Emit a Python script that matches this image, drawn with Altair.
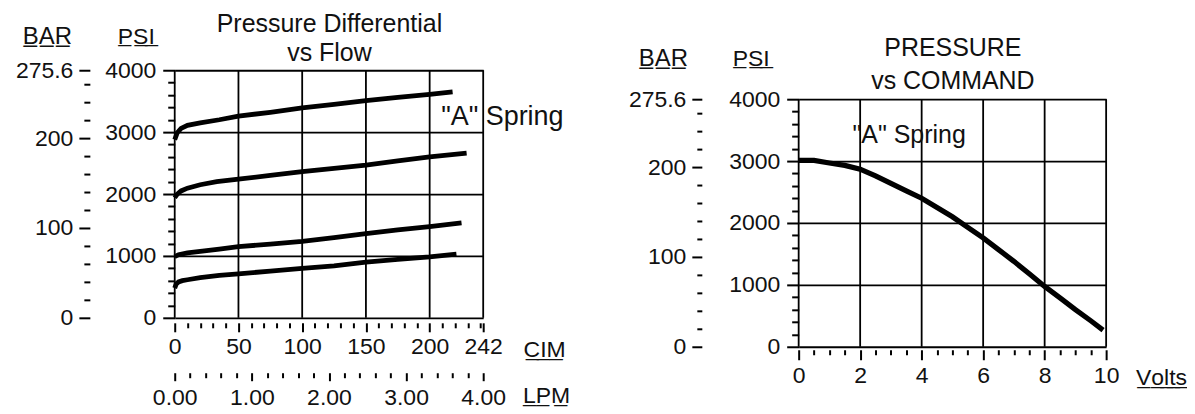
import altair as alt
import pandas as pd

FONT = "Liberation Sans"
INK = "#111111"

# ---------------- Left panel: Pressure Differential vs Flow ----------------
cim_a = [0, 2, 5, 10, 20, 35, 50, 75, 100, 125, 150, 175, 200, 218]
psi_a = [2880, 2990, 3060, 3110, 3150, 3200, 3260, 3320, 3390, 3450, 3510, 3560, 3610, 3650]
cim_b = [0, 2, 5, 10, 20, 33, 50, 75, 100, 125, 150, 175, 200, 229]
psi_b = [1940, 2000, 2050, 2095, 2150, 2200, 2240, 2300, 2360, 2415, 2468, 2535, 2600, 2660]
cim_c = [0, 3, 10, 20, 35, 50, 75, 100, 125, 150, 175, 200, 225]
psi_c = [990, 1020, 1050, 1075, 1110, 1150, 1190, 1235, 1295, 1360, 1420, 1475, 1535]
cim_d = [0, 1, 3, 6, 10, 20, 35, 50, 75, 100, 125, 150, 175, 200, 221]
psi_d = [480, 540, 580, 600, 615, 650, 685, 710, 755, 800, 840, 900, 945, 985, 1030]

# ---------------- Right panel: PRESSURE vs COMMAND ----------------
volts = [0, 0.5, 1, 1.5, 2, 2.5, 3, 3.5, 4, 4.5, 5, 5.5, 6, 6.5, 7, 7.5, 8, 8.5, 9, 9.5, 9.9]
psi_cmd = [3010, 3010, 2970, 2930, 2870, 2760, 2640, 2520, 2400, 2250, 2100, 1930, 1760,
           1570, 1380, 1180, 975, 790, 600, 420, 270]

# ---------------- tick values / labels ----------------
cim_major = [0, 50, 100, 150, 200, 242]
cim_minor = [10, 20, 30, 40, 60, 70, 80, 90, 110, 120, 130, 140, 160, 170, 180, 190,
             210, 220, 230, 240]
lpm_major = [0, 1, 2, 3, 4]
lpm_minor = [0.2, 0.4, 0.6, 0.8, 1.2, 1.4, 1.6, 1.8, 2.2, 2.4, 2.6, 2.8, 3.2, 3.4, 3.6, 3.8]
psi_major = [0, 1000, 2000, 3000, 4000]
psi_minor = [200, 400, 600, 800, 1200, 1400, 1600, 1800, 2200, 2400, 2600, 2800,
             3200, 3400, 3600, 3800]
bar_major = [0, 100, 200, 275.6]
bar_minor = [20, 40, 60, 80, 120, 140, 160, 180, 220, 240, 260]
volt_major = [0, 2, 4, 6, 8, 10]
volt_minor = [0.5, 1, 1.5, 2.5, 3, 3.5, 4.5, 5, 5.5, 6.5, 7, 7.5, 8.5, 9, 9.5]

cim_domain = [0, 242]
lpm_domain = [0, 4]
psi_domain = [0, 4000]
bar_domain = [0, 275.6]
volt_domain = [0, 10]

left_title = ["Pressure Differential", "vs Flow"]
right_title = ["PRESSURE", "vs COMMAND"]
spring_label = ['"A" Spring']

# ---------------- layout (pixels inside the drawing area) ----------------
W, H = 933, 277
LX = [0, 309]          # left panel x range
LY = [248, 0]          # left panel y range
RX = [625, 933]        # right panel x range
RY = [277, 29]         # right panel y range
GRID_W = 1.8
LABEL_SIZE = 23

U = "\u0332"


def underline(s):
    return "".join(ch + U for ch in s)


def axis(values, orient, tick, labels=True, grid=False, offset=0, pad=6, fmt=None,
         title=None, tx=0, ty=0, label_expr=None, tsize=23):
    d = dict(values=values, orient=orient, tickSize=tick, tickColor="black", tickWidth=2,
             domain=False, grid=grid, labels=labels, offset=offset, labelPadding=pad,
             labelFont=FONT, labelFontSize=LABEL_SIZE, labelColor=INK, labelFlush=False,
             labelOverlap=False)
    if grid:
        d.update(gridColor="black", gridWidth=GRID_W, gridOpacity=1)
    if fmt:
        d["format"] = fmt
    if label_expr:
        d["labelExpr"] = label_expr
    if title:
        d.update(title=underline(title), titleFont=FONT, titleFontSize=tsize,
                 titleFontWeight="normal", titleColor=INK, titleAngle=0, titleX=tx,
                 titleY=ty, titleAlign="center", titleBaseline="alphabetic")
    else:
        d["title"] = ""
    return alt.Axis(**d)


def title_axis(lines, tx, ty, lh):
    return alt.Axis(orient="top", ticks=False, labels=False, domain=False, grid=False,
                    title=lines, titleFont=FONT, titleFontSize=25, titleFontWeight="normal",
                    titleColor=INK, titleAngle=0, titleX=tx, titleY=ty,
                    titleAlign="center", titleBaseline="alphabetic", titleLineHeight=lh)


def sc(domain, rng):
    return alt.Scale(domain=domain, range=rng, nice=False, zero=False)


# ---------------- left panel ----------------
rows = []
for name, xs, ys in [("a", cim_a, psi_a), ("b", cim_b, psi_b), ("c", cim_c, psi_c),
                     ("d", cim_d, psi_d)]:
    for x, y in zip(xs, ys):
        rows.append({"curve": name, "cim": x, "psi": y})
left_df = pd.DataFrame(rows)
left_ref = pd.DataFrame({"cim": cim_domain, "psi": psi_domain, "lpm": lpm_domain,
                         "bar": bar_domain})
left_vgrid = pd.DataFrame({"cim": cim_major, "lo": psi_domain[0], "hi": psi_domain[1]})

L_vgrid = alt.Chart(left_vgrid).mark_rule(color="black", strokeWidth=GRID_W).encode(
    x=alt.X("cim:Q", scale=sc(cim_domain, LX), axis=None),
    y=alt.Y("lo:Q", scale=sc(psi_domain, LY), axis=None),
    y2="hi:Q",
)
L_lines = alt.Chart(left_df).mark_line(color="black", strokeWidth=4.8).encode(
    x=alt.X("cim:Q", scale=sc(cim_domain, LX),
            axis=axis(cim_major, "bottom", 9, offset=-24, pad=4, title="CIM",
                      tx=370, ty=34)),
    y=alt.Y("psi:Q", scale=sc(psi_domain, LY),
            axis=axis(psi_major, "left", 12, grid=True, pad=7, fmt="d", title="PSI",
                      tx=-39, ty=-27)),
    detail="curve:N",
)
L_minor = alt.Chart(left_ref).mark_point(opacity=0).encode(
    x=alt.X("cim:Q", scale=sc(cim_domain, LX),
            axis=axis(cim_minor, "bottom", 5, labels=False, offset=-24)),
    y=alt.Y("psi:Q", scale=sc(psi_domain, LY), axis=axis(psi_minor, "left", 7, labels=False)),
)
L_alt_major = alt.Chart(left_ref).mark_point(opacity=0).encode(
    x=alt.X("lpm:Q", scale=sc(lpm_domain, LX),
            axis=axis(lpm_major, "bottom", 8, offset=26, pad=6, fmt=".2f", title="LPM",
                      tx=372, ty=30)),
    y=alt.Y("bar:Q", scale=sc(bar_domain, LY),
            axis=axis(bar_major, "left", 11, offset=85, pad=6, title="BAR", tx=-43, ty=-27,
                      tsize=24,
                      label_expr="datum.value == 275.6 ? '275.6' : datum.label")),
)
L_alt_minor = alt.Chart(left_ref).mark_point(opacity=0).encode(
    x=alt.X("lpm:Q", scale=sc(lpm_domain, LX),
            axis=axis(lpm_minor, "bottom", 5, labels=False, offset=26)),
    y=alt.Y("bar:Q", scale=sc(bar_domain, LY),
            axis=axis(bar_minor, "left", 6, labels=False, offset=85)),
)
L_title = alt.Chart(left_ref).mark_point(opacity=0).encode(
    x=alt.X("cim:Q", scale=sc(cim_domain, LX), axis=title_axis(left_title, 154.5, -39.3, 29.5)),
    y=alt.Y("psi:Q", scale=sc(psi_domain, LY), axis=None),
)
L_text = alt.Chart(pd.DataFrame({"cim": [209], "psi": [3240], "label": spring_label})).mark_text(
    align="left", baseline="middle", font=FONT, fontSize=27, color=INK
).encode(
    x=alt.X("cim:Q", scale=sc(cim_domain, LX), axis=None),
    y=alt.Y("psi:Q", scale=sc(psi_domain, LY), axis=None),
    text="label:N",
)

# ---------------- right panel ----------------
right_df = pd.DataFrame({"volts": volts, "psi": psi_cmd})
right_ref = pd.DataFrame({"volts": volt_domain, "psi": psi_domain, "bar": bar_domain})
right_vgrid = pd.DataFrame({"volts": volt_major, "lo": psi_domain[0], "hi": psi_domain[1]})

R_vgrid = alt.Chart(right_vgrid).mark_rule(color="black", strokeWidth=GRID_W).encode(
    x=alt.X("volts:Q", scale=sc(volt_domain, RX), axis=None),
    y=alt.Y("lo:Q", scale=sc(psi_domain, RY), axis=None),
    y2="hi:Q",
)
R_line = alt.Chart(right_df).mark_line(color="black", strokeWidth=5.2).encode(
    x=alt.X("volts:Q", scale=sc(volt_domain, RX),
            axis=axis(volt_major, "bottom", 10, offset=3, pad=5, title="Volts",
                      tx=988, ty=35)),
    y=alt.Y("psi:Q", scale=sc(psi_domain, RY),
            axis=axis(psi_major, "left", 12, grid=True, pad=7, fmt="d", title="PSI",
                      offset=-625, tx=-48, ty=-5)),
)
R_minor = alt.Chart(right_ref).mark_point(opacity=0).encode(
    x=alt.X("volts:Q", scale=sc(volt_domain, RX),
            axis=axis(volt_minor, "bottom", 5, labels=False, offset=3)),
    y=alt.Y("psi:Q", scale=sc(psi_domain, RY),
            axis=axis(psi_minor, "left", 7, labels=False, offset=-625)),
)
R_bar = alt.Chart(right_ref).mark_point(opacity=0).encode(
    x=alt.X("volts:Q", scale=sc(volt_domain, RX), axis=None),
    y=alt.Y("bar:Q", scale=sc(bar_domain, RY),
            axis=axis(bar_major, "left", 10, offset=-528, pad=6, title="BAR", tx=-39, ty=-5,
                      tsize=24,
                      label_expr="datum.value == 275.6 ? '275.6' : datum.label")),
)
R_bar_minor = alt.Chart(right_ref).mark_point(opacity=0).encode(
    x=alt.X("volts:Q", scale=sc(volt_domain, RX), axis=None),
    y=alt.Y("bar:Q", scale=sc(bar_domain, RY),
            axis=axis(bar_minor, "left", 5, labels=False, offset=-528)),
)
R_title = alt.Chart(right_ref).mark_point(opacity=0).encode(
    x=alt.X("volts:Q", scale=sc(volt_domain, RX), axis=title_axis(right_title, 779, -15, 33)),
    y=alt.Y("psi:Q", scale=sc(psi_domain, RY), axis=None),
)
R_text = alt.Chart(pd.DataFrame({"volts": [1.75], "psi": [3420], "label": spring_label})).mark_text(
    align="left", baseline="middle", font=FONT, fontSize=25, color=INK
).encode(
    x=alt.X("volts:Q", scale=sc(volt_domain, RX), axis=None),
    y=alt.Y("psi:Q", scale=sc(psi_domain, RY), axis=None),
    text="label:N",
)

chart = alt.layer(
    L_vgrid, L_lines, L_minor, L_alt_major, L_alt_minor, L_title, L_text,
    R_vgrid, R_line, R_minor, R_bar, R_bar_minor, R_title, R_text,
).resolve_scale(x="independent", y="independent").resolve_axis(
    x="independent", y="independent"
).properties(
    width=W, height=H,
    padding={"left": 7, "top": 2, "right": 0, "bottom": 0},
).configure_view(stroke="transparent")

chart.save("out.html", embed_options={"renderer": "svg", "actions": False})
